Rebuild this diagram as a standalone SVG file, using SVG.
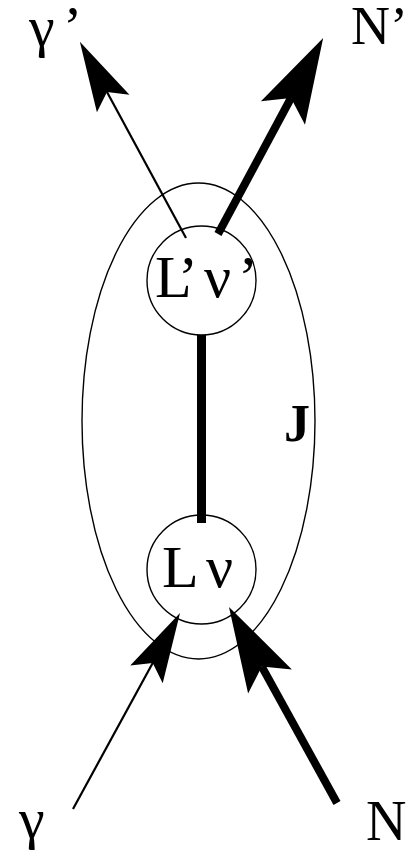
<svg xmlns="http://www.w3.org/2000/svg" width="410" height="857" viewBox="0 0 410 857">
<style>
.outline{fill:none;stroke:#000;stroke-width:1.4}
.lbl{font-family:"Liberation Serif","Times New Roman",serif;fill:#000}
.thin{fill:none;stroke:#000;stroke-width:2.2;marker-end:url(#headThin)}
.thick{fill:none;stroke:#000;stroke-width:8;marker-end:url(#headThick)}
</style>
<defs>
<marker id="headThin" markerUnits="userSpaceOnUse" viewBox="-30 -30 100 60" markerWidth="100" markerHeight="60" refX="0" refY="0" orient="auto" overflow="visible">
<path d="M57,0 L-13,-18.5 L0,0 L-13,18.5 Z" fill="#000"/>
</marker>
<marker id="headThick" markerUnits="userSpaceOnUse" viewBox="-30 -30 100 60" markerWidth="100" markerHeight="60" refX="0" refY="0" orient="auto" overflow="visible">
<path d="M68,0 L-17,-25 L0,0 L-17,25 Z" fill="#000"/>
</marker>
</defs>
<g id="J">
<ellipse class="outline" cx="198.5" cy="421" rx="116.5" ry="238"/>
<text class="lbl" x="284" y="441" font-size="52" font-weight="bold">J</text>
</g>
<g id="connectors">
<line x1="201.5" y1="335" x2="201.5" y2="523" stroke="#000" stroke-width="9"/>
<line class="thin" x1="186" y1="238" x2="107" y2="92"/>
<line class="thick" x1="218" y1="234" x2="291" y2="98"/>
<line class="thin" x1="73" y1="809" x2="152.7" y2="663"/>
<line class="thick" x1="337" y1="803" x2="261.8" y2="666.6"/>
</g>
<g id="Lprime">
<circle class="outline" cx="201.5" cy="280.5" r="54.5" fill="#fff"/>
<text class="lbl" font-size="60" y="297"><tspan x="155">L</tspan><tspan x="178">’</tspan><tspan x="204">ν</tspan><tspan x="238">’</tspan></text>
</g>
<g id="L">
<circle class="outline" cx="201.5" cy="569.5" r="54.5"/>
<text class="lbl" font-size="60" y="587"><tspan x="162">L</tspan><tspan x="206">ν</tspan></text>
</g>
<g id="gammaOut"><text class="lbl" font-size="58" x="29" y="46">γ<tspan x="63">’</tspan></text></g>
<g id="NOut"><text class="lbl" font-size="54" x="351" y="44">N’</text></g>
<g id="gammaIn"><text class="lbl" font-size="58" x="19" y="838">γ</text></g>
<g id="NIn"><text class="lbl" font-size="56" x="366" y="840">N</text></g>
</svg>
